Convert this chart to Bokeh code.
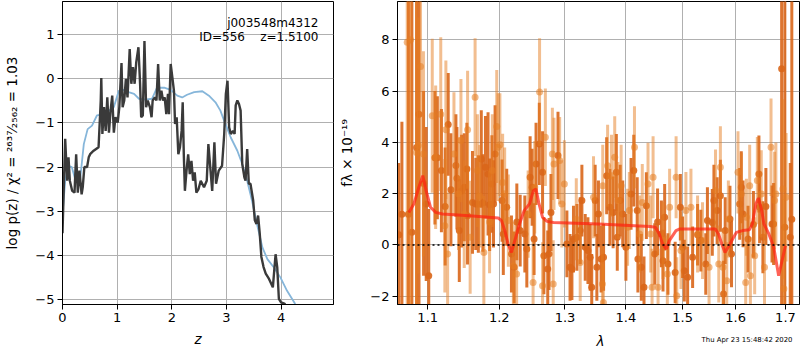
import numpy as np
import pandas as pd
from bokeh.plotting import figure
from bokeh.layouts import row, column
from bokeh.models import Range1d, FixedTicker, PrintfTickFormatter, Label, Span, ColumnDataSource
from bokeh.embed import file_html
from bokeh.resources import INLINE

# ---------------- left panel: log p(z) ----------------
pz_z = [0.0, 0.049, 0.085, 0.11, 0.134, 0.177, 0.22, 0.25, 0.28, 0.31,
        0.35, 0.37, 0.40, 0.45, 0.48, 0.51, 0.57, 0.66, 0.70, 0.71,
        0.73, 0.76, 0.79, 0.82, 0.85, 0.88, 0.91, 0.94, 0.97, 1.01,
        1.04, 1.08, 1.10, 1.13, 1.16, 1.19, 1.23, 1.26, 1.29, 1.32,
        1.35, 1.39, 1.42, 1.44, 1.47, 1.50, 1.53, 1.56, 1.60, 1.63,
        1.65, 1.69, 1.72, 1.75, 1.78, 1.81, 1.84, 1.87, 1.90, 1.93,
        1.95, 1.98, 2.01, 2.04, 2.06, 2.09, 2.12, 2.15, 2.18, 2.20,
        2.22, 2.24, 2.27, 2.30, 2.33, 2.36, 2.39, 2.42, 2.45, 2.49,
        2.53, 2.59, 2.64, 2.67, 2.74, 2.78, 2.81, 2.86, 2.92, 2.96,
        2.99, 3.02, 3.05, 3.08, 3.12, 3.15, 3.17, 3.20, 3.23, 3.26,
        3.29, 3.33, 3.35, 3.38, 3.41, 3.44, 3.49, 3.52, 3.55, 3.58,
        3.61, 3.64, 3.68, 3.72, 3.78, 3.85, 3.90, 3.93, 3.96, 4.00,
        4.06, 4.10]
pz_logp = [-3.5, -1.36, -2.31, -1.78, -2.31, -2.54, -2.58, -1.71, -2.58, -2.08,
           -2.62, -2.46, -2.0, -2.0, -1.78, -1.70, -1.63, -1.55, -0.49, 0.02,
           -1.25, -0.64, -1.18, -0.42, -1.22, -0.72, -0.38, -1.22, -0.87, -0.99,
           -0.64, 0.36, -0.64, -0.49, 0.0, -0.42, 0.68, -0.11, 0.27, -0.11,
           0.38, 0.72, -0.11, -0.87, -0.83, 0.86, -0.64, -0.49, -0.64, -0.87,
           -0.49, -0.42, -0.49, 0.34, -0.49, -0.27, -0.49, -0.42, -0.80, -0.34,
           -0.80, 0.34, 0.04, -0.27, -1.02, -0.87, -1.71, -1.55, -1.18, -0.53,
           -1.71, -2.54, -2.08, -1.71, -2.16, -1.86, -2.31, -2.12, -2.58, -2.50,
           -2.31, -2.46, -2.31, -1.48, -2.54, -1.44, -2.38, -2.08, -1.97, -1.25,
           -0.34, -0.04, -1.10, -1.25, -1.18, -1.25, -0.60, -0.49, -0.57, -0.72,
           -1.93, -2.24, -2.31, -1.59, -2.38, -2.38, -2.76, -3.21, -3.29, -3.10,
           -3.51, -4.04, -4.27, -4.42, -4.54, -4.73, -3.98, -4.27, -4.99, -5.07,
           -5.10, -5.16]

prior_z = [0.0, 0.05, 0.11, 0.17, 0.24, 0.32, 0.39, 0.46, 0.54, 0.63,
           0.76, 0.85, 0.94, 1.03, 1.12, 1.21, 1.31, 1.40, 1.52, 1.64,
           1.73, 1.86, 1.98, 2.10, 2.19, 2.28, 2.41, 2.56, 2.68, 2.80,
           2.89, 2.98, 3.08, 3.20, 3.29, 3.38, 3.47, 3.56, 3.66, 3.75,
           3.87, 3.99, 4.11, 4.26]
prior_logp = [-3.07, -2.31, -1.97, -2.0, -2.31, -2.31, -1.48, -1.14, -1.06, -0.83,
              -0.80, -0.72, -0.64, -0.27, -0.25, -0.30, -0.34, -0.45, -0.47, -0.45,
              -0.20, -0.20, -0.25, -0.38, -0.42, -0.36, -0.30, -0.28, -0.38, -0.53,
              -0.72, -1.02, -1.33, -1.63, -1.93, -2.31, -2.77, -3.30, -3.83, -4.09,
              -4.28, -4.51, -4.81, -5.11]

z_ticks = [0, 1, 2, 3, 4]
logp_ticks = [-5, -4, -3, -2, -1, 0, 1]
obj_name = "j003548m4312"
obj_info = "ID=556\u00a0\u00a0\u00a0\u00a0z=1.5100"

# ---------------- right panel: spectrum ----------------
dark_wave = [1.062, 1.066, 1.0745, 1.079, 1.0852, 1.0884, 1.0945, 1.098, 1.1014, 1.1097,
             1.113, 1.1185, 1.1236, 1.1278, 1.1315, 1.1384, 1.1398, 1.1431, 1.1463, 1.150,
             1.1537, 1.1546, 1.1616, 1.1662, 1.1699, 1.1741, 1.1764, 1.1801, 1.1838, 1.1861,
             1.1894, 1.1917, 1.194, 1.2042, 1.206, 1.211, 1.218, 1.222, 1.226, 1.231,
             1.238, 1.241, 1.246, 1.249, 1.252, 1.255, 1.260, 1.265, 1.267, 1.273,
             1.275, 1.278, 1.289, 1.303, 1.308, 1.311, 1.3135, 1.319, 1.3243, 1.327,
             1.3324, 1.3368, 1.3405, 1.343, 1.3486, 1.3514, 1.354, 1.3584, 1.3625, 1.3676,
             1.373, 1.3784, 1.3838, 1.3854, 1.3903, 1.3946, 1.400, 1.4088, 1.4135, 1.4194,
             1.4206, 1.4265, 1.4312, 1.4353, 1.450, 1.455, 1.4618, 1.4647, 1.4676, 1.4735,
             1.4865, 1.4959, 1.500, 1.5031, 1.5092, 1.5184, 1.5276, 1.5337, 1.5429, 1.546,
             1.5552, 1.5583, 1.5644, 1.5706, 1.5767, 1.5798, 1.589, 1.592, 1.6079, 1.611,
             1.6145, 1.6243, 1.635, 1.646, 1.6474, 1.654, 1.660, 1.6724, 1.6757, 1.6921,
             1.6987, 1.7099, 1.7132]
dark_flux = [0.4, 1.2, 1.2, 0.5, 3.8, 5.1, 2.4, 1.6, -1.2, 3.4,
             3.4, 2.9, 1.5, 4.7, 2.15, 3.1, 2.6, 0.56, 2.1, 2.25,
             2.96, 1.14, 1.66, 1.6, 1.6, 3.35, 1.64, 3.03, 2.77, 1.57,
             2.38, 1.6, 3.55, 1.73, 0.43, 1.47, -0.35, -0.87, 0.9, 0.56,
             0.43, -0.16, 2.64, 2.25, 0.23, 3.16, 3.94, 2.83, -0.42, -0.94,
             -0.35, 1.27, 3.49, 0.04, -0.87, -0.94, 0.23, 0.3, 0.56, 1.73,
             -0.09, -0.22, -0.48, -1.65, 1.73, -0.87, 1.21, -0.55, -0.48, 2.7,
             1.47, 1.27, 2.83, 0.3, 1.73, 1.21, -0.09, 1.99, 2.9, 1.34,
             -0.55, -0.87, -1.65, 1.53, -0.35, 0.9, 0.43, -0.61, 1.08, -0.74,
             -1.07, 1.47, -0.09, -1.0, -1.26, -0.48, 0.4, 0.17, -0.74, 0.95,
             0.88, 1.73, 1.34, 1.92, -1.91, 0.56, 1.01, -0.35, 1.6, 2.25,
             1.21, 0.23, 0.8, 2.77, 1.47, 0.3, 1.5, 0.82, 0.82, 6.87,
             0.69, 0.3, 1.0]
dark_err = [2.8, 3.6, 12, 12, 10, 9, 3.6, 3.0, 2.6, 2.6,
            2.4, 2.4, 2.3, 2.0, 2.2, 2.0, 2.0, 2.0, 2.2, 2.1,
            1.8, 1.9, 2.0, 1.8, 1.9, 1.9, 1.9, 2.0, 2.4, 1.8,
            1.9, 1.7, 1.9, 1.6, 1.6, 1.5, 1.5, 1.4, 1.5, 1.4,
            1.5, 1.5, 1.6, 1.5, 1.4, 1.6, 1.6, 1.6, 1.5, 1.5,
            1.4, 1.5, 1.7, 1.3, 1.3, 1.2, 1.3, 1.3, 1.3, 1.4,
            1.3, 1.3, 1.3, 1.3, 1.4, 1.3, 1.3, 1.3, 1.3, 1.5,
            1.5, 1.4, 1.5, 1.3, 1.4, 1.3, 1.3, 1.4, 1.4, 1.3,
            1.3, 1.3, 1.2, 1.3, 1.2, 1.3, 1.3, 1.2, 1.3, 1.2,
            1.2, 1.3, 1.2, 1.2, 1.2, 1.2, 1.2, 1.2, 1.2, 1.3,
            1.3, 1.4, 1.3, 1.4, 1.3, 1.3, 1.3, 1.3, 1.4, 1.4,
            1.3, 1.3, 1.3, 1.5, 1.4, 1.4, 1.5, 1.5, 1.6, 14,
            12, 2.9, 12]

light_wave = [1.0729, 1.0772, 1.0852, 1.0874, 1.0904, 1.0943, 1.1061, 1.1107, 1.1176, 1.1232,
              1.1246, 1.127, 1.1357, 1.142, 1.1454, 1.150, 1.1547, 1.1583, 1.1653, 1.1686,
              1.172, 1.1778, 1.186, 1.190, 1.1964, 1.1982, 1.201, 1.205, 1.208, 1.2134,
              1.2208, 1.2257, 1.243, 1.2505, 1.253, 1.2604, 1.265, 1.2693, 1.2802, 1.2815,
              1.2827, 1.2916, 1.295, 1.299, 1.318, 1.3243, 1.3459, 1.3605, 1.3611, 1.3622,
              1.3692, 1.3757, 1.3811, 1.3865, 1.3919, 1.4029, 1.4059, 1.4147, 1.4235, 1.4282,
              1.4382, 1.4429, 1.4453, 1.4471, 1.4559, 1.4647, 1.4724, 1.4765, 1.4882, 1.4894,
              1.497, 1.5061, 1.5153, 1.5276, 1.5368, 1.5491, 1.5613, 1.5675, 1.5706, 1.5755,
              1.5828, 1.5859, 1.6046, 1.6112, 1.6197, 1.6211, 1.6276, 1.629, 1.6375, 1.6428,
              1.6507, 1.6572, 1.6704, 1.6776, 1.6803, 1.6947, 1.6967, 1.7013]
light_flux = [7.9, 8.0, 3.6, 3.88, 6.96, 3.55, 5.04, 3.42, 5.1, 0.75,
              4.49, -0.35, 3.55, 2.0, 4.07, 1.2, 4.49, 0.3, 5.76, 2.9,
              1.9, -0.29, 0.9, 2.9, 4.62, 3.81, 3.91, 2.44, 2.0, 0.95,
              -0.81, -1.13, 1.2, -1.46, 2.25, 5.96, -1.59, 4.2, 3.55, -1.52,
              3.16, 3.29, 1.6, 2.38, 1.0, -0.68, 1.86, -1.52, 2.31, -2.24,
              3.09, 2.7, 3.42, 1.73, 2.31, 0.69, 1.34, 3.81, 0.43, 1.66,
              2.38, 0.43, -1.65, 2.64, -1.65, 0.17, -1.13, 1.47, 2.64, -1.98,
              -0.22, 1.34, 1.47, 0.43, 0.17, -0.87, 2.12, -0.74, 3.03, -0.87,
              -1.39, 1.01, 2.83, 1.99, -1.46, 1.08, 2.31, -1.2, -0.42, 2.51,
              1.99, -0.87, 3.81, 1.73, 1.99, 2.18, -1.71, 1.86]
light_err = [12, 12, 6, 5, 5, 4, 3.0, 2.8, 3.0, 2.6,
             2.7, 2.4, 2.4, 2.2, 2.4, 2.1, 2.3, 2.2, 2.3, 2.2,
             2.0, 2.2, 2.0, 2.2, 2.2, 2.1, 2.0, 1.9, 1.8, 1.8,
             1.7, 1.7, 1.7, 1.6, 1.8, 2.1, 1.7, 1.9, 1.8, 1.7,
             1.8, 1.7, 1.7, 1.7, 1.6, 1.5, 1.6, 1.5, 1.6, 1.5,
             1.6, 1.6, 1.6, 1.5, 1.6, 1.5, 1.5, 1.6, 1.5, 1.5,
             1.6, 1.5, 1.5, 1.6, 1.5, 1.5, 1.5, 1.5, 1.6, 1.5,
             1.5, 1.5, 1.5, 1.5, 1.5, 1.5, 1.6, 1.5, 1.6, 1.5,
             1.5, 1.5, 1.6, 1.6, 1.5, 1.5, 1.6, 1.5, 1.5, 1.7,
             1.7, 1.6, 1.9, 1.9, 2.0, 3.5, 3.5, 2.5]

model_wave = [1.075, 1.0816, 1.0882, 1.0934, 1.0979, 1.1038, 1.1107, 1.12, 1.157, 1.1986,
              1.2033, 1.2082, 1.213, 1.218, 1.223, 1.230, 1.237, 1.245, 1.251, 1.255,
              1.259, 1.265, 1.272, 1.282, 1.354, 1.442, 1.4512, 1.458, 1.464, 1.4705,
              1.476, 1.488, 1.494, 1.561, 1.567, 1.5733, 1.5794, 1.589, 1.6013, 1.614,
              1.627, 1.633, 1.6398, 1.645, 1.651, 1.656, 1.666, 1.676, 1.686, 1.693,
              1.700]
model_flux = [1.27, 1.6, 2.25, 2.7, 2.12, 1.47, 1.27, 1.21, 1.14, 1.05,
              0.95, 0.56, 0.04, -0.29, 0.17, 0.82, 1.34, 1.6, 2.12, 2.18,
              1.66, 1.08, 0.92, 0.88, 0.82, 0.72, 0.69, 0.43, 0.04, -0.16,
              0.17, 0.56, 0.62, 0.62, 0.43, 0.04, -0.29, 0.04, 0.49, 0.56,
              0.59, 0.82, 1.6, 1.83, 1.4, 0.82, 0.43, -0.09, -1.2, -0.61,
              -0.03]

wave_ticks = [1.1, 1.2, 1.3, 1.4, 1.5, 1.6, 1.7]
flux_ticks = [-2, 0, 2, 4, 6, 8]
date_text = "Thu Apr 23 15:48:42 2020"

FONT = "DejaVu Sans"


def minus(v):
    return str(v).replace("-", "\u2212")


def style(p):
    p.outline_line_color = "black"
    p.outline_line_width = 1
    p.outline_line_alpha = 1
    p.background_fill_color = "white"
    p.border_fill_color = "white"
    for ax in p.axis:
        ax.axis_line_color = "black"
        ax.major_tick_line_color = "black"
        ax.major_tick_out = 5
        ax.major_tick_in = 0
        ax.minor_tick_line_color = None
        ax.major_label_text_font = FONT
        ax.major_label_text_font_size = "13px"
        ax.major_label_text_color = "black"
        ax.axis_label_text_font = FONT
        ax.axis_label_text_font_size = "13.5px"
        ax.axis_label_text_font_style = "normal"
        ax.axis_label_text_color = "black"
        ax.major_label_standoff = 3
        ax.axis_label_standoff = 3
    p.grid.grid_line_color = "#b0b0b0"
    p.grid.grid_line_width = 1


# ---- left figure ----
p1 = figure(width=336, height=350, x_range=Range1d(0, 4.96), y_range=Range1d(-5.12, 1.757),
            output_backend="svg", toolbar_location=None,
            min_border_left=62, min_border_right=3, min_border_top=1, min_border_bottom=46)
style(p1)
p1.xaxis.ticker = FixedTicker(ticks=z_ticks, minor_ticks=[])
p1.yaxis.ticker = FixedTicker(ticks=logp_ticks, minor_ticks=[])
p1.yaxis.major_label_overrides = {v: minus(v) for v in logp_ticks}
p1.xaxis.axis_label = "z"
p1.xaxis.axis_label_text_font_style = "italic"
p1.xaxis.axis_label_standoff = 6
p1.yaxis.axis_label = "log p(z) / \u03c7\u00b2 = \u00b2\u2076\u00b3\u2077\u2044\u2082\u2085\u2086\u2082 = 1.03"
p1.yaxis.axis_label_standoff = 12

p1.line(prior_z, prior_logp, line_color="#86b6da", line_width=1.8)
p1.line(pz_z, pz_logp, line_color="#3a3a3a", line_width=2.4)

p1.add_layout(Label(x=256, y=282, x_units="screen", y_units="screen", text=obj_name,
                    text_align="right", text_baseline="middle", text_font=FONT,
                    text_font_size="12px", text_color="black"))
p1.add_layout(Label(x=256, y=268, x_units="screen", y_units="screen", text=obj_info,
                    text_align="right", text_baseline="middle", text_font=FONT,
                    text_font_size="12px", text_color="black"))

# ---- right figure ----
p2 = figure(width=464, height=330, x_axis_type="log",
            x_range=Range1d(1.0603, 1.7293), y_range=Range1d(-2.32, 9.49),
            output_backend="svg", toolbar_location=None,
            min_border_left=56, min_border_right=1, min_border_top=1, min_border_bottom=26)
style(p2)
p2.xaxis.ticker = FixedTicker(ticks=wave_ticks, minor_ticks=[])
p2.xaxis.formatter = PrintfTickFormatter(format="%.1f")
p2.yaxis.ticker = FixedTicker(ticks=flux_ticks, minor_ticks=[])
p2.yaxis.major_label_overrides = {v: minus(v) for v in flux_ticks}
p2.yaxis.axis_label = "f\u03bb \u00d7 10\u207b\u00b9\u2079"
p2.yaxis.axis_label_standoff = 12

dark = pd.DataFrame({"w": dark_wave, "f": dark_flux, "e": dark_err})
dark["lo"] = dark.f - dark.e
dark["hi"] = dark.f + dark.e
light = pd.DataFrame({"w": light_wave, "f": light_flux, "e": light_err})
light["lo"] = light.f - light.e
light["hi"] = light.f + light.e
dsrc = ColumnDataSource(dark)
lsrc = ColumnDataSource(light)

DARK = "#d9661a"
LIGHT = "#e67e22"
p2.segment(x0="w", y0="lo", x1="w", y1="hi", source=dsrc, line_color=DARK, line_width=3, line_alpha=0.9)
p2.scatter(x="w", y="f", source=dsrc, size=7, fill_color=DARK, line_color=None, fill_alpha=0.9)
p2.segment(x0="w", y0="lo", x1="w", y1="hi", source=lsrc, line_color=LIGHT, line_width=3, line_alpha=0.5)
p2.scatter(x="w", y="f", source=lsrc, size=7, fill_color=LIGHT, line_color=None, fill_alpha=0.55)

p2.add_layout(Span(location=0, dimension="width", line_color="black", line_dash="2 3", line_width=1.6))
p2.line(model_wave, model_flux, line_color="#ff2010", line_alpha=0.7, line_width=3)

# ---- strip under the right panel: x-axis label and time stamp ----
# (its frame lines up with the right panel's frame, which starts 56px in)
p3 = figure(width=464, height=20, x_range=Range1d(0, 1), y_range=Range1d(0, 1),
            output_backend="svg", toolbar_location=None,
            x_axis_location=None, y_axis_location=None,
            min_border_left=56, min_border_right=1, min_border_top=0, min_border_bottom=0)
p3.outline_line_color = None
p3.grid.visible = False
p3.background_fill_color = "white"
p3.border_fill_color = "white"
p3.add_layout(Label(x=203, y=10, x_units="screen", y_units="screen", text="\u03bb",
                    text_align="center", text_baseline="middle", text_font=FONT,
                    text_font_size="13.5px", text_font_style="italic", text_color="black"))
p3.add_layout(Label(x=395, y=11, x_units="screen", y_units="screen", text=date_text,
                    text_align="right", text_baseline="middle", text_font=FONT,
                    text_font_size="6.9px", text_color="black"))

layout = row(p1, column(p2, p3))
open("out.html", "w").write(file_html(layout, INLINE))
